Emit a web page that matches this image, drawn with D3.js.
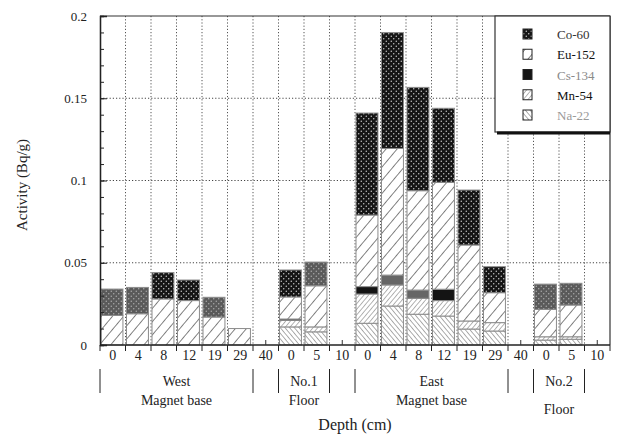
<!DOCTYPE html>
<html><head><meta charset="utf-8">
<script src="https://cdn.jsdelivr.net/npm/d3@7"></script>
<style>
html,body{margin:0;padding:0;background:#fff;}
svg{display:block;}
text{font-family:"Liberation Serif","DejaVu Serif",serif;}
</style></head>
<body><svg id="c" width="619" height="438"></svg>
<script>
// ---- data ----
const categories = ["W0","W4","W8","W12","W19","W29","W40","F1-0","F1-5","F1-10","E0","E4","E8","E12","E19","E29","E40","F2-0","F2-5","F2-10"];
const depthLabels = ["0","4","8","12","19","29","40","0","5","10","0","4","8","12","19","29","40","0","5","10"];
const seriesNames = ["Na-22","Mn-54","Cs-134","Eu-152","Co-60"];
const na22  = [0,0,0,0,0,0,0, 0.011,0.008,0, 0.0132,0.0237,0.0187,0.0176,0.0097,0.0085,0, 0.003,0.0035,0];
const mn54  = [0,0,0,0,0,0,0, 0.004,0.003,0, 0.0178,0.0128,0.0097,0.0094,0.0049,0.0051,0, 0.002,0.0015,0];
const cs134 = [0,0,0,0,0,0,0, 0.0008,0,0, 0.0045,0.006,0.005,0.0069,0,0,0, 0,0,0];
const eu152 = [0.018,0.019,0.028,0.027,0.017,0.010,0, 0.0134,0.025,0, 0.0435,0.077,0.0604,0.065,0.0462,0.0182,0, 0.0167,0.0193,0];
const co60  = [0.016,0.016,0.016,0.0125,0.012,0,0, 0.0164,0.0144,0, 0.062,0.0704,0.0628,0.045,0.0334,0.0158,0, 0.0153,0.0132,0];
const yTicks = [0,0.05,0.1,0.15,0.2];
const yTickLabels = ["0","0.05","0.1","0.15","0.2"];
const groupNames = [["West","Magnet base"],["No.1","Floor"],["East","Magnet base"],["No.2","Floor"]];
const groupSpans = [["W0","W29"],["F1-0","F1-5"],["E0","E29"],["F2-0","F2-5"]];
const legendOrder = ["Co-60","Eu-152","Cs-134","Mn-54","Na-22"];
// style: bars whose Co-60 portion printed in a lighter tone in the original
const lightCo = new Set(["W0","W4","W19","F1-5","F2-0","F2-5"]);
const greyCs = new Set(["E4","E8"]);

// ---- layout ----
const L=100, R=610, T=16, B=345;
const svg = d3.select("#c");
const x = d3.scaleBand().domain(categories).range([L,R]).padding(0);
const y = d3.scaleLinear().domain([0,0.2]).range([B,T]);
const bw = x.bandwidth();

// ---- patterns ----
const defs = svg.append("defs");
function dots(id,bg,fg){
  const p=defs.append("pattern").attr("id",id).attr("patternUnits","userSpaceOnUse").attr("width",5).attr("height",5);
  p.append("rect").attr("width",5).attr("height",5).attr("fill",bg);
  p.append("circle").attr("cx",1.25).attr("cy",1.25).attr("r",0.7).attr("fill",fg);
  p.append("circle").attr("cx",3.75).attr("cy",3.75).attr("r",0.7).attr("fill",fg);
}
dots("pCo","#151515","#d5d5d5");
dots("pCoL","#5a5a5a","#b0b0b0");
function hatch(id,size,angle,color,w){
  const p=defs.append("pattern").attr("id",id).attr("patternUnits","userSpaceOnUse")
    .attr("width",size).attr("height",size).attr("patternTransform",`rotate(${angle})`);
  p.append("rect").attr("width",size).attr("height",size).attr("fill","#fff");
  p.append("line").attr("x1",0).attr("y1",0).attr("x2",0).attr("y2",size).attr("stroke",color).attr("stroke-width",w);
}
hatch("pEu",8.5,40,"#1e1e1e",1.1);
hatch("pMn",3.6,40,"#6a6a6a",1.0);
hatch("pNa",3.6,-40,"#5a5a5a",1.0);

const fills = {"Na-22":"url(#pNa)","Mn-54":"url(#pMn)","Cs-134":"#141414","Eu-152":"url(#pEu)","Co-60":"url(#pCo)"};

// ---- grid ----
const grid = svg.append("g");
grid.selectAll("line.v").data(categories.slice(1)).join("line")
  .attr("x1",d=>x(d)).attr("x2",d=>x(d)).attr("y1",T).attr("y2",B)
  .attr("stroke","#555").attr("stroke-width",1).attr("stroke-dasharray","1.2,2");
grid.selectAll("line.h").data(yTicks.slice(1,4)).join("line")
  .attr("x1",L).attr("x2",R).attr("y1",d=>y(d)).attr("y2",d=>y(d))
  .attr("stroke","#444").attr("stroke-width",1).attr("stroke-dasharray","1.2,2");

// ---- stacked bars ----
const table = categories.map((c,i)=>({cat:c,"Na-22":na22[i],"Mn-54":mn54[i],"Cs-134":cs134[i],"Eu-152":eu152[i],"Co-60":co60[i]}));
const stacked = d3.stack().keys(seriesNames)(table);
const barG = svg.append("g");
stacked.forEach(s=>{
  barG.selectAll(null).data(s.filter(d=>d[1]-d[0]>0)).join("rect")
    .attr("x",d=>x(d.data.cat)+1).attr("width",bw*0.86)
    .attr("y",d=>y(d[1])).attr("height",d=>y(d[0])-y(d[1]))
    .attr("fill",d=>{
      if(s.key==="Co-60" && lightCo.has(d.data.cat)) return "url(#pCoL)";
      if(s.key==="Cs-134" && greyCs.has(d.data.cat)) return "#666";
      return fills[s.key];})
    .attr("stroke","#8c8c8c").attr("stroke-width",1);
});

// ---- frame & axes ----
svg.append("line").attr("x1",L).attr("x2",R).attr("y1",T).attr("y2",T).attr("stroke","#333").attr("stroke-width",1.2);
svg.append("line").attr("x1",R).attr("x2",R).attr("y1",T).attr("y2",B).attr("stroke","#333").attr("stroke-width",1.2);

const yMinor = svg.append("g").attr("transform",`translate(${L},0)`)
  .call(d3.axisLeft(y).tickValues(d3.range(0,0.2001,0.01)).tickSize(-4).tickFormat(""));
const yMajor = svg.append("g").attr("transform",`translate(${L},0)`)
  .call(d3.axisLeft(y).tickValues(yTicks).tickSize(-7).tickPadding(13).tickFormat((d,i)=>yTickLabels[i]));
[yMinor,yMajor].forEach(g=>{g.select(".domain").attr("stroke","#222").attr("stroke-width",1.3);
  g.selectAll(".tick line").attr("stroke","#222");});
yMajor.selectAll("text").attr("font-size",13).attr("fill","#222").attr("font-family","Liberation Serif, serif");

// x axis: ticks at slot boundaries
const xb = categories.map(c=>x(c)).concat([R]);
svg.append("line").attr("x1",L).attr("x2",R).attr("y1",B).attr("y2",B).attr("stroke","#222").attr("stroke-width",1.4);
svg.selectAll("line.xt").data(xb).join("line")
  .attr("x1",d=>d).attr("x2",d=>d).attr("y1",B).attr("y2",B+6).attr("stroke","#222").attr("stroke-width",1);
// small up ticks at empty slots
svg.selectAll("line.xe").data(categories.filter((c,i)=>co60[i]+eu152[i]===0)).join("line")
  .attr("x1",d=>x(d)+bw/2).attr("x2",d=>x(d)+bw/2).attr("y1",B).attr("y2",B-5).attr("stroke","#333").attr("stroke-width",1);
// depth labels
svg.selectAll("text.dl").data(categories).join("text")
  .attr("x",d=>x(d)+bw/2).attr("y",B+15).attr("text-anchor","middle")
  .attr("font-size",14).attr("fill","#222").text((d,i)=>depthLabels[i]);

// group brackets
groupSpans.forEach((sp,i)=>{
  const x0=x(sp[0]), x1=x(sp[1])+bw;
  [x0,x1].forEach(xx=>svg.append("line").attr("x1",xx).attr("x2",xx).attr("y1",369).attr("y2",393).attr("stroke","#222").attr("stroke-width",1));
  const cx=(x0+x1)/2;
  svg.append("text").attr("x",cx).attr("y",386).attr("text-anchor","middle").attr("font-size",14).attr("fill","#222").text(groupNames[i][0]);
  svg.append("text").attr("x",cx).attr("y",i===3?414:405).attr("text-anchor","middle").attr("font-size",14).attr("fill","#222").text(groupNames[i][1]);
});
svg.append("text").attr("x",(L+R)/2).attr("y",430).attr("text-anchor","middle").attr("font-size",16).attr("fill","#222").text("Depth (cm)");
svg.append("text").attr("transform","translate(27,185) rotate(-90)").attr("text-anchor","middle").attr("font-size",15).attr("fill","#222").text("Activity (Bq/g)");

// ---- legend ----
const lg = svg.append("g");
lg.append("rect").attr("x",495).attr("y",T).attr("width",R-495).attr("height",116).attr("fill","#fff").attr("stroke","#333").attr("stroke-width",1.2);
lg.append("line").attr("x1",497).attr("x2",R).attr("y1",T+117).attr("y2",T+117).attr("stroke","#111").attr("stroke-width",3);
const legColors = {"Co-60":"#333","Eu-152":"#111","Cs-134":"#8a8a8a","Mn-54":"#111","Na-22":"#9a9a9a"};
const ly = d3.scalePoint().domain(legendOrder).range([T+18,T+99]);
lg.selectAll("rect.sw").data(legendOrder).join("rect")
  .attr("x",523).attr("y",d=>ly(d)-5).attr("width",9).attr("height",10)
  .attr("fill",d=>fills[d]).attr("stroke","#222").attr("stroke-width",1);
lg.selectAll("text.lt").data(legendOrder).join("text")
  .attr("x",557).attr("y",d=>ly(d)+5).attr("font-size",13).attr("fill",d=>legColors[d]).text(d=>d);
</script></body></html>
